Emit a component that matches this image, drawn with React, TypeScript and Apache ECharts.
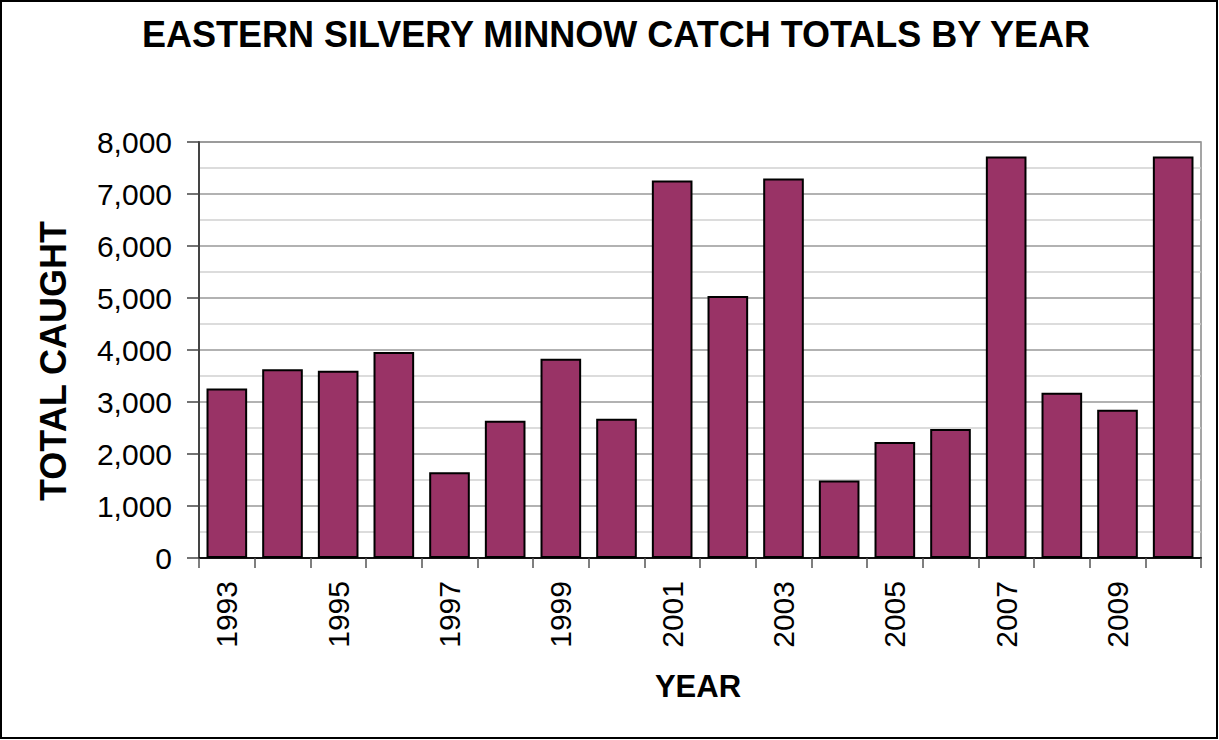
import React, { useEffect, useRef } from "react";
import * as echarts from "echarts";

const years = ["1993","1994","1995","1996","1997","1998","1999","2000","2001","2002","2003","2004","2005","2006","2007","2008","2009","2010"];
const caught = [3260, 3630, 3600, 3960, 1650, 2640, 3830, 2680, 7260, 5040, 7300, 1490, 2230, 2480, 7720, 3180, 2850, 7720];
const titleText = "EASTERN SILVERY MINNOW CATCH TOTALS BY YEAR";
const yName = "TOTAL CAUGHT";
const xName = "YEAR";

export default function App() {
  const ref = useRef<HTMLDivElement>(null);
  useEffect(() => {
    document.body.style.margin = "0";
    const chart = echarts.init(ref.current!, null, { renderer: "svg" });
    const font = "Arial, 'Liberation Sans', sans-serif";
    chart.setOption({
      animation: false,
      backgroundColor: "#ffffff",
      textStyle: { fontFamily: font },
      title: {
        text: titleText,
        left: 611,
        textAlign: "center",
        top: 11,
        textStyle: { fontSize: 36, fontWeight: "bold", color: "#000", fontFamily: font },
      },
      grid: {
        left: 199, right: 18, top: 142, bottom: 182,
        show: true, borderColor: "#888", borderWidth: 1.5, backgroundColor: "transparent",
      },
      xAxis: {
        type: "category",
        data: years,
        axisLine: { lineStyle: { color: "#111", width: 2 } },
        axisTick: { show: true, interval: 0, length: 10, lineStyle: { color: "#555", width: 1.5 } },
        axisLabel: { interval: 1, rotate: 90, margin: 23, fontSize: 30, color: "#000", fontFamily: font },
      },
      yAxis: {
        type: "value",
        min: 0, max: 8000, interval: 1000,
        axisLine: { show: true, lineStyle: { color: "#444", width: 2 } },
        axisTick: { show: true, length: 12, lineStyle: { color: "#444", width: 1.5 } },
        axisLabel: {
          margin: 27, fontSize: 30, color: "#000", fontFamily: font,
          formatter: (v: number) => v.toLocaleString("en-US"),
        },
        splitLine: { show: true, lineStyle: { color: "#999", width: 1.5 } },
        minorTick: { show: false, splitNumber: 2 },
        minorSplitLine: { show: true, lineStyle: { color: "#d0d0d0", width: 1.5 } },
      },
      series: [
        {
          type: "bar",
          data: caught,
          barCategoryGap: "27%",
          itemStyle: { color: "#993366", borderColor: "#000", borderWidth: 2 },
        },
      ],
      graphic: [
        {
          type: "rect",
          shape: { x: 1, y: 1, width: 1216, height: 737 },
          style: { fill: "none", stroke: "#000", lineWidth: 2 },
          silent: true,
        },
        {
          type: "text",
          x: 53, y: 361, rotation: Math.PI / 2,
          style: { text: yName, fontSize: 36, fontWeight: "bold", fill: "#000", align: "center", verticalAlign: "middle", fontFamily: font },
        },
        {
          type: "text",
          x: 698, y: 686,
          style: { text: xName, fontSize: 31, fontWeight: "bold", fill: "#000", align: "center", verticalAlign: "middle", fontFamily: font },
        },
      ],
    });
    return () => chart.dispose();
  }, []);
  return <div ref={ref} style={{ width: 1219, height: 740 }} />;
}
